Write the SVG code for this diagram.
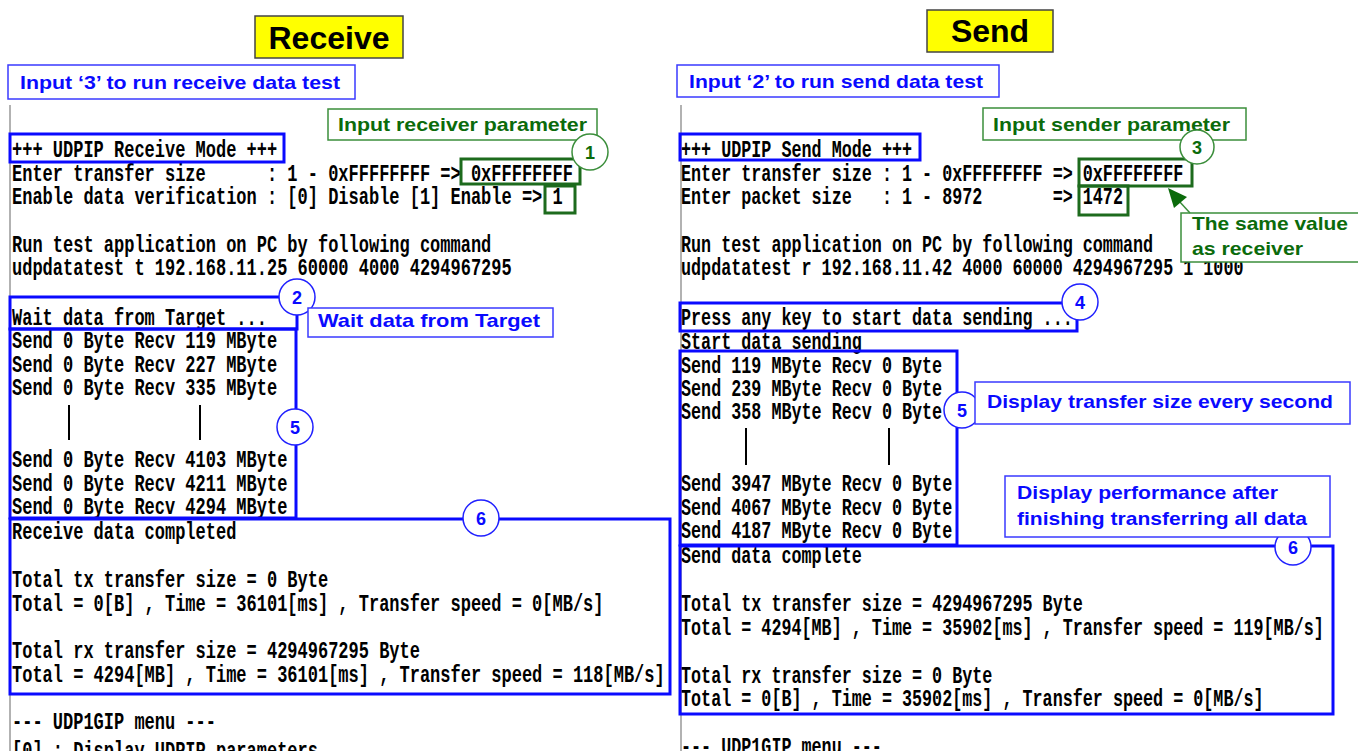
<svg xmlns="http://www.w3.org/2000/svg" width="1358" height="751" viewBox="0 0 1358 751">
<defs>
<style>
.con{font-family:"Liberation Mono","DejaVu Sans Mono",monospace;font-size:23px;font-weight:bold;fill:#000;white-space:pre}
.lbl{font-family:"Liberation Sans",Arial,sans-serif;font-weight:bold;font-size:19px}
.blue{fill:#0a0aff}
.green{fill:#0b6b0b}
.title{font-family:"Liberation Sans",Arial,sans-serif;font-weight:bold;font-size:32px;fill:#000}
.tbox{fill:#ffff00;stroke:#444;stroke-width:1.5}
.lbox{fill:#fff;stroke:#3a3aff;stroke-width:1.5}
.gbox{fill:#fff;stroke:#3b8e3b;stroke-width:1.5}
.hbox{fill:none;stroke:#0a0aff;stroke-width:3}
.vbox{fill:none;stroke:#1d6b1d;stroke-width:3}
.bc{fill:#fff;stroke:#2020ff;stroke-width:1.5}
.gc{fill:#fff;stroke:#3b8e3b;stroke-width:1.5}
.num{font-family:"Liberation Sans",Arial,sans-serif;font-weight:bold;font-size:18px;text-anchor:middle}
.edge{stroke:#999;stroke-width:1.5}
.bar{stroke:#000;stroke-width:2}
</style>
</defs>
<rect width="1358" height="751" fill="#fff"/>

<g id="console-left">
<line class="edge" x1="10" y1="105" x2="10" y2="751"/>
<g transform="matrix(0.739,0,0,1,12,0)">
<text class="con" x="0" y="157">+++ UDPIP Receive Mode +++</text>
<text class="con" x="0" y="181">Enter transfer size      : 1 - 0xFFFFFFFF =&gt; 0xFFFFFFFF</text>
<text class="con" x="0" y="204">Enable data verification : [0] Disable [1] Enable =&gt; 1</text>
<text class="con" x="0" y="252">Run test application on PC by following command</text>
<text class="con" x="0" y="275">udpdatatest t 192.168.11.25 60000 4000 4294967295</text>
<text class="con" x="0" y="325">Wait data from Target ...</text>
<text class="con" x="0" y="348">Send 0 Byte Recv 119 MByte</text>
<text class="con" x="0" y="372">Send 0 Byte Recv 227 MByte</text>
<text class="con" x="0" y="395">Send 0 Byte Recv 335 MByte</text>
<text class="con" x="0" y="467">Send 0 Byte Recv 4103 MByte</text>
<text class="con" x="0" y="491">Send 0 Byte Recv 4211 MByte</text>
<text class="con" x="0" y="514">Send 0 Byte Recv 4294 MByte</text>
<text class="con" x="0" y="539">Receive data completed</text>
<text class="con" x="0" y="587">Total tx transfer size = 0 Byte</text>
<text class="con" x="0" y="611">Total = 0[B] , Time = 36101[ms] , Transfer speed = 0[MB/s]</text>
<text class="con" x="0" y="658">Total rx transfer size = 4294967295 Byte</text>
<text class="con" x="0" y="682">Total = 4294[MB] , Time = 36101[ms] , Transfer speed = 118[MB/s]</text>
<text class="con" x="0" y="729">--- UDP1GIP menu ---</text>
<text class="con" x="0" y="758">[0] : Display UDPIP parameters</text>
</g>
<line class="bar" x1="69" y1="405" x2="69" y2="440"/>
<line class="bar" x1="200" y1="405" x2="200" y2="440"/>
</g>

<g id="console-right">
<line class="edge" x1="681" y1="105" x2="681" y2="751"/>
<g transform="matrix(0.728,0,0,1,681,0)">
<text class="con" x="0" y="157">+++ UDPIP Send Mode +++</text>
<text class="con" x="0" y="181">Enter transfer size : 1 - 0xFFFFFFFF =&gt; 0xFFFFFFFF</text>
<text class="con" x="0" y="204">Enter packet size   : 1 - 8972       =&gt; 1472</text>
<text class="con" x="0" y="252">Run test application on PC by following command</text>
<text class="con" x="0" y="275">udpdatatest r 192.168.11.42 4000 60000 4294967295 1 1000</text>
<text class="con" x="0" y="325">Press any key to start data sending ...</text>
<text class="con" x="0" y="349">Start data sending</text>
<text class="con" x="0" y="373">Send 119 MByte Recv 0 Byte</text>
<text class="con" x="0" y="396">Send 239 MByte Recv 0 Byte</text>
<text class="con" x="0" y="419">Send 358 MByte Recv 0 Byte</text>
<text class="con" x="0" y="491">Send 3947 MByte Recv 0 Byte</text>
<text class="con" x="0" y="515">Send 4067 MByte Recv 0 Byte</text>
<text class="con" x="0" y="538">Send 4187 MByte Recv 0 Byte</text>
<text class="con" x="0" y="563">Send data complete</text>
<text class="con" x="0" y="611">Total tx transfer size = 4294967295 Byte</text>
<text class="con" x="0" y="635">Total = 4294[MB] , Time = 35902[ms] , Transfer speed = 119[MB/s]</text>
<text class="con" x="0" y="683">Total rx transfer size = 0 Byte</text>
<text class="con" x="0" y="706">Total = 0[B] , Time = 35902[ms] , Transfer speed = 0[MB/s]</text>
<text class="con" x="0" y="754">--- UDP1GIP menu ---</text>
</g>
<line class="bar" x1="746" y1="428" x2="746" y2="465"/>
<line class="bar" x1="889" y1="428" x2="889" y2="465"/>
</g>

<g id="title-receive">
<rect class="tbox" x="255" y="16" width="148" height="42"/>
<text class="title" x="329" y="49" text-anchor="middle">Receive</text>
</g>
<g id="title-send">
<rect class="tbox" x="927" y="10" width="126" height="42"/>
<text class="title" x="990" y="42" text-anchor="middle">Send</text>
</g>

<g id="label-input3">
<rect class="lbox" x="8" y="65" width="347" height="34"/>
<text class="lbl blue" x="20" y="89" font-size="20" textLength="320" lengthAdjust="spacingAndGlyphs">Input ‘3’ to run receive data test</text>
</g>
<g id="label-input2">
<rect class="lbox" x="677" y="65" width="322" height="32"/>
<text class="lbl blue" x="689" y="88" font-size="20" textLength="294" lengthAdjust="spacingAndGlyphs">Input ‘2’ to run send data test</text>
</g>

<g id="label-recv-param">
<rect class="gbox" x="328" y="109" width="269" height="31"/>
<text class="lbl green" x="338" y="131" textLength="249" lengthAdjust="spacingAndGlyphs">Input receiver parameter</text>
</g>
<g id="label-send-param">
<rect class="gbox" x="983" y="108" width="263" height="32"/>
<text class="lbl green" x="993" y="131" textLength="237" lengthAdjust="spacingAndGlyphs">Input sender parameter</text>
</g>

<g id="box-recv-mode"><rect class="hbox" x="10" y="134" width="274" height="28"/></g>
<g id="box-send-mode"><rect class="hbox" x="680" y="134" width="240" height="26"/></g>

<g id="val-recv-size"><rect class="vbox" x="461" y="159" width="119" height="25"/></g>
<g id="val-recv-verify"><rect class="vbox" x="545" y="186" width="30" height="27"/></g>
<g id="val-send-size"><rect class="vbox" x="1079" y="159" width="113" height="27"/></g>
<g id="val-send-pkt"><rect class="vbox" x="1079" y="186" width="49" height="29"/></g>

<g id="step1"><circle class="gc" cx="590" cy="152" r="18"/><text class="num green" x="590" y="159">1</text></g>
<g id="step3"><circle class="gc" cx="1197" cy="147" r="17"/><text class="num green" x="1197" y="154">3</text></g>

<g id="label-same">
<rect class="gbox" x="1181" y="213" width="180" height="49"/>
<text class="lbl green" x="1192" y="230" textLength="156" lengthAdjust="spacingAndGlyphs">The same value</text>
<text class="lbl green" x="1192" y="255" textLength="111" lengthAdjust="spacingAndGlyphs">as receiver</text>
</g>

<g id="box-wait"><rect class="hbox" x="10" y="297" width="287" height="32"/></g>
<g id="box-recv-progress"><rect class="hbox" x="10" y="329" width="286" height="189"/></g>
<g id="box-recv-result"><rect class="hbox" x="10" y="519" width="660" height="175"/></g>
<g id="step2"><circle class="bc" cx="297" cy="297" r="18"/><text class="num blue" x="297" y="304">2</text></g>
<g id="step5-left"><circle class="bc" cx="295" cy="427" r="18"/><text class="num blue" x="295" y="434">5</text></g>
<g id="step6-left"><circle class="bc" cx="481" cy="518" r="18"/><text class="num blue" x="481" y="525">6</text></g>
<g id="label-wait">
<rect class="lbox" x="308" y="308" width="245" height="29"/>
<text class="lbl blue" x="318" y="327" textLength="222" lengthAdjust="spacingAndGlyphs">Wait data from Target</text>
</g>

<g id="box-press"><rect class="hbox" x="680" y="303" width="397" height="28"/></g>
<g id="box-send-progress"><rect class="hbox" x="680" y="351" width="277" height="194"/></g>
<g id="box-send-result"><rect class="hbox" x="680" y="546" width="653" height="168"/></g>
<g id="step4"><circle class="bc" cx="1080" cy="302" r="18"/><text class="num blue" x="1080" y="309">4</text></g>
<g id="step5-right"><circle class="bc" cx="962" cy="410" r="18"/><text class="num blue" x="962" y="417">5</text></g>
<g id="step6-right"><circle class="bc" cx="1293" cy="547" r="18"/><text class="num blue" x="1293" y="554">6</text></g>
<g id="label-display-size">
<rect class="lbox" x="975" y="382" width="375" height="42"/>
<text class="lbl blue" x="987" y="408" textLength="346" lengthAdjust="spacingAndGlyphs">Display transfer size every second</text>
</g>
<g id="label-display-perf">
<rect class="lbox" x="1005" y="476" width="325" height="61"/>
<text class="lbl blue" x="1017" y="499" textLength="261" lengthAdjust="spacingAndGlyphs">Display performance after</text>
<text class="lbl blue" x="1017" y="525" textLength="290" lengthAdjust="spacingAndGlyphs">finishing transferring all data</text>
</g>

<g id="connectors">
<line x1="1190" y1="213" x2="1179" y2="201" stroke="#3b8e3b" stroke-width="1.5"/>
<polygon points="1168,188 1187,197 1174,208" fill="#0b6b0b"/>
</g>
</svg>
